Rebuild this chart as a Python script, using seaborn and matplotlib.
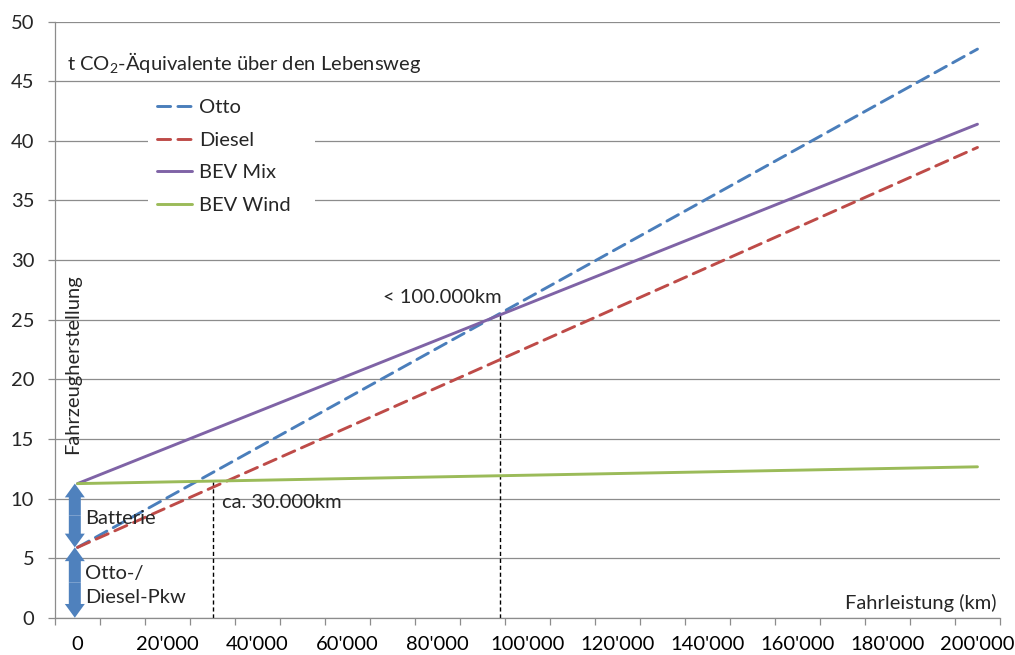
import numpy as np
import pandas as pd
import matplotlib
matplotlib.use('Agg')
import matplotlib.pyplot as plt
import matplotlib.ticker as mticker
import seaborn as sns

# Fahrleistung in km (Geraden: Start- und Endpunkt)
km = [0, 200000]

otto = [5.9, 47.7]
diesel = [5.9, 39.45]
bev_mix = [11.25, 41.4]
bev_wind = [11.25, 12.66]

series_names = ['Otto', 'Diesel', 'BEV Mix', 'BEV Wind']
colors = ['#4A7EBB', '#BE4B48', '#7F63A6', '#9BBB59']

# Schnittpunkte (km, t CO2) und Beschriftungen
cross_km = [30000, 93800]
cross_t = [11.5, 25.4]
cross_labels = ['ca. 30.000km', '< 100.000km']

# Anteil Fahrzeugherstellung (t CO2)
pkw_base = 5.9
bev_base = 11.25

x_ticks = np.arange(0, 200001, 20000)
y_ticks = np.arange(0, 51, 5)

# -----------------------------------------------------------------------
df = pd.DataFrame({
    'km': km * 4,
    't': otto + diesel + bev_mix + bev_wind,
    'Antrieb': [n for n in series_names for _ in km],
})

sns.set_theme(style='white')
plt.rcParams['font.family'] = ['Lato', 'DejaVu Sans']
plt.rcParams['mathtext.fontset'] = 'custom'
plt.rcParams['mathtext.rm'] = 'Lato'
plt.rcParams['mathtext.it'] = 'Lato:italic'
plt.rcParams['mathtext.bf'] = 'Lato:bold'
fs = 14.5
grid_col = '#8C8C8C'
blue_arrow = '#4F81BD'

fig = plt.figure(figsize=(10.15, 6.55), dpi=100)
ax = fig.add_axes([0.0542, 0.0569, 0.931, 0.910])

dashes = {'Otto': (4.5, 2.5), 'Diesel': (4.5, 2.5), 'BEV Mix': '', 'BEV Wind': ''}
sns.lineplot(data=df, x='km', y='t', hue='Antrieb', style='Antrieb',
             hue_order=series_names, style_order=series_names,
             palette=colors, dashes=dashes, lw=2.1, ax=ax, zorder=3)
for ln in ax.get_lines():
    ln.set_dash_capstyle('round')

ax.set_xlim(-5000, 205000)
ax.set_ylim(0, 50)
ax.set_xlabel('')
ax.set_ylabel('')

# axes & grid
ax.set_yticks(y_ticks)
ax.yaxis.grid(True, color=grid_col, lw=0.9)
ax.set_axisbelow(True)
ax.set_xticks(x_ticks)
ax.set_xticks(np.arange(-5000, 205001, 10000), minor=True)
ax.xaxis.set_major_formatter(mticker.FuncFormatter(lambda v, p: f"{int(v):,}".replace(',', "'")))
ax.tick_params(axis='x', which='major', length=0, pad=13, labelsize=fs, colors='black')
ax.tick_params(axis='x', which='minor', length=5, width=0.9, color=grid_col, direction='out', bottom=True)
ax.tick_params(axis='y', length=5, width=0.9, color=grid_col, direction='out', left=True, pad=10, labelsize=fs)
for s in ['top', 'right']:
    ax.spines[s].set_visible(False)
for s in ['left', 'bottom']:
    ax.spines[s].set_color(grid_col)
    ax.spines[s].set_linewidth(0.9)

# crossover markers
ax.vlines(cross_km, 0, cross_t, colors='black', lw=1.0, linestyles=(0, (3, 2)), zorder=2)
ax.text(cross_km[0] + 2200, 9.65, cross_labels[0], fontsize=fs, va='center', ha='left')
ax.text(cross_km[1] - 26000, 26.9, cross_labels[1], fontsize=fs, va='center', ha='left')

# production arrows
arrow_x = -600
for y0, y1 in [(0, pkw_base), (pkw_base, bev_base)]:
    mid = (y0 + y1) / 2
    for end in (y0, y1):
        ax.annotate('', xy=(arrow_x, end), xytext=(arrow_x, mid),
                    arrowprops=dict(arrowstyle='simple,head_length=0.55,head_width=0.8,tail_width=0.48',
                                    color=blue_arrow, lw=0, shrinkA=0, shrinkB=0, mutation_scale=18),
                    zorder=4)

ax.text(1700, 8.3, 'Batterie', fontsize=fs, va='center', ha='left')
ax.text(1700, 2.7, 'Otto-/\nDiesel-Pkw', fontsize=fs, va='center', ha='left', linespacing=1.45)
ax.text(-1000, 21.3, 'Fahrzeugherstellung', fontsize=fs, va='center', ha='center', rotation=90)
ax.text(-2300, 46.6, r't CO$_\mathregular{2}$-Äquivalente über den Lebensweg', fontsize=fs,
        va='center', ha='left')
ax.text(204300, 1.25, 'Fahrleistung (km)', fontsize=fs, va='center', ha='right')

handles, labels = ax.get_legend_handles_labels()
ax.legend(handles, labels, loc='upper left', bbox_to_anchor=(0.0984, 0.686, 0.177, 0.2),
          mode='expand', frameon=True, facecolor='white', edgecolor='none', framealpha=1,
          fontsize=fs, handlelength=1.75, handletextpad=0.35, labelspacing=0.78,
          borderpad=0.45, borderaxespad=0)

fig.savefig('out.png', dpi=100)
